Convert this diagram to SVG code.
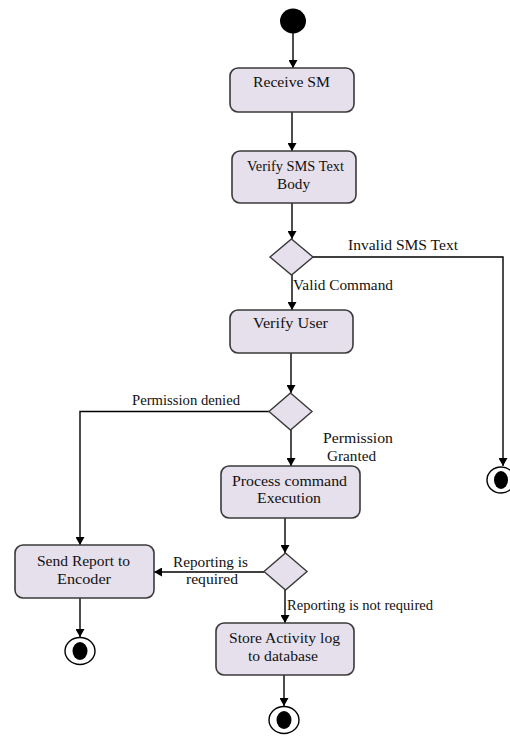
<svg xmlns="http://www.w3.org/2000/svg" width="510" height="736" viewBox="0 0 510 736">
<style>
.box{fill:#E6E0EC;stroke:#3a3a3a;stroke-width:1.6}
.dec{fill:#E6E0EC;stroke:#3a3a3a;stroke-width:1.4}
.con{fill:none;stroke:#000;stroke-width:1.4;marker-end:url(#ah)}
text{font-family:'Liberation Serif','Times New Roman','DejaVu Serif',serif;font-size:14px;fill:#111}
.mid{text-anchor:middle}
.ring{fill:#fff;stroke:#000;stroke-width:1.4}
</style>
<defs>
<marker id="ah" markerWidth="8" markerHeight="9" refX="8" refY="4.5" orient="auto" markerUnits="userSpaceOnUse">
<path d="M0,0 L8,4.5 L0,9 Z" fill="#000"/>
</marker>
</defs>
<rect width="510" height="736" fill="#fff"/>
<g id="connectors">
<path class="con" d="M293,33 V68"/>
<path class="con" d="M292,112 V151"/>
<path class="con" d="M292,203 V239"/>
<path class="con" d="M313,257 H503 V466"/>
<path class="con" d="M292,275 V310"/>
<path class="con" d="M291,353 V393"/>
<path class="con" d="M269,411.5 H80 V545"/>
<path class="con" d="M291,430 V466"/>
<path class="con" d="M285,518 V553"/>
<path class="con" d="M264,572 H154"/>
<path class="con" d="M285,590 V623"/>
<path class="con" d="M80,598 V637"/>
<path class="con" d="M284,675 V706"/>
<text x="348" y="250" textLength="110" lengthAdjust="spacingAndGlyphs">Invalid SMS Text</text>
<text x="293" y="290" textLength="100" lengthAdjust="spacingAndGlyphs">Valid Command</text>
<text x="132" y="405" textLength="108" lengthAdjust="spacingAndGlyphs">Permission denied</text>
<text x="323" y="443" textLength="70" lengthAdjust="spacingAndGlyphs">Permission</text>
<text x="327" y="461" textLength="49" lengthAdjust="spacingAndGlyphs">Granted</text>
<text x="173" y="567" textLength="75" lengthAdjust="spacingAndGlyphs">Reporting is</text>
<text x="186" y="584" textLength="52" lengthAdjust="spacingAndGlyphs">required</text>
<text x="287" y="610" textLength="146" lengthAdjust="spacingAndGlyphs">Reporting is not required</text>
</g>
<g id="start"><ellipse cx="293" cy="21" rx="13" ry="12.5" fill="#000"/></g>
<g id="receive-sm">
<rect class="box" x="230" y="68" width="124" height="44" rx="8"/>
<text class="mid" x="291.5" y="87" textLength="77" lengthAdjust="spacingAndGlyphs">Receive SM</text>
</g>
<g id="verify-sms">
<rect class="box" x="232" y="151" width="124" height="52" rx="8"/>
<text class="mid" x="295.5" y="171" textLength="97" lengthAdjust="spacingAndGlyphs">Verify SMS Text</text>
<text class="mid" x="293.5" y="189" textLength="33" lengthAdjust="spacingAndGlyphs">Body</text>
</g>
<g id="decision-1"><path class="dec" d="M291.5,239 L313,257 L291.5,275 L270,257 Z"/></g>
<g id="verify-user">
<rect class="box" x="230" y="310" width="123" height="43" rx="8"/>
<text class="mid" x="290.5" y="328" textLength="75" lengthAdjust="spacingAndGlyphs">Verify User</text>
</g>
<g id="decision-2"><path class="dec" d="M290.5,393 L312,411.5 L290.5,430 L269,411.5 Z"/></g>
<g id="process-command">
<rect class="box" x="221" y="466" width="139" height="52" rx="8"/>
<text class="mid" x="289.5" y="486" textLength="115" lengthAdjust="spacingAndGlyphs">Process command</text>
<text class="mid" x="289" y="503" textLength="64" lengthAdjust="spacingAndGlyphs">Execution</text>
</g>
<g id="decision-3"><path class="dec" d="M285.5,553 L307,571.5 L285.5,590 L264,571.5 Z"/></g>
<g id="send-report">
<rect class="box" x="15" y="545" width="139" height="53" rx="8"/>
<text class="mid" x="83.5" y="566" textLength="93" lengthAdjust="spacingAndGlyphs">Send Report to</text>
<text class="mid" x="84" y="584" textLength="54" lengthAdjust="spacingAndGlyphs">Encoder</text>
</g>
<g id="store-log">
<rect class="box" x="216" y="623" width="138" height="52" rx="8"/>
<text class="mid" x="284.5" y="643" textLength="111" lengthAdjust="spacingAndGlyphs">Store Activity log</text>
<text class="mid" x="283" y="661" textLength="70" lengthAdjust="spacingAndGlyphs">to database</text>
</g>
<g id="final-right">
<ellipse class="ring" cx="501" cy="480" rx="14" ry="13"/>
<ellipse cx="501" cy="480" rx="7" ry="9" fill="#000"/>
</g>
<g id="final-left">
<ellipse class="ring" cx="80" cy="651" rx="15" ry="13.5"/>
<ellipse cx="80" cy="651" rx="7.5" ry="9" fill="#000"/>
</g>
<g id="final-bottom">
<ellipse class="ring" cx="284" cy="720" rx="15" ry="13.5"/>
<ellipse cx="284" cy="720" rx="7.5" ry="9" fill="#000"/>
</g>
</svg>
